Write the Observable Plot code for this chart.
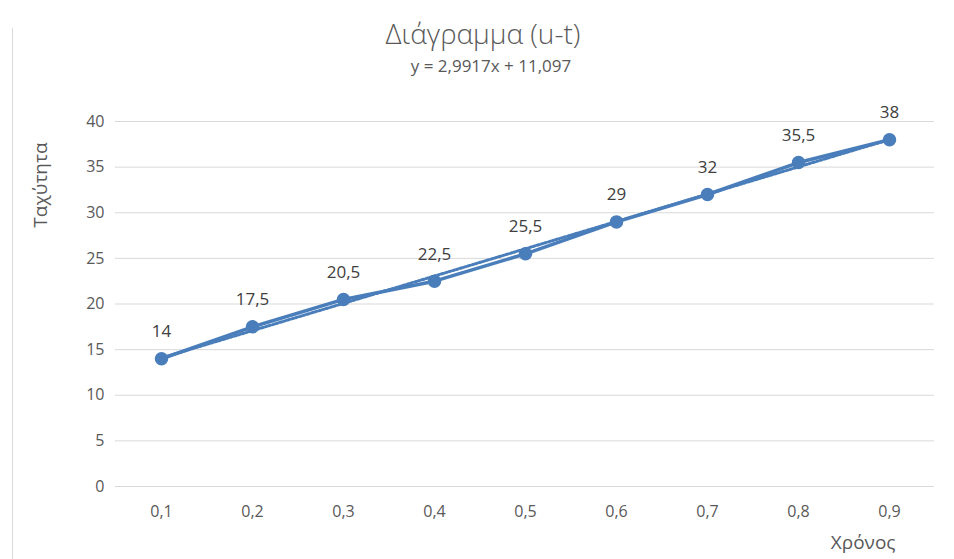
<!DOCTYPE html>
<html>
<head>
<meta charset="utf-8">
<script src="https://cdn.jsdelivr.net/npm/d3@7"></script>
<script src="https://cdn.jsdelivr.net/npm/@observablehq/plot@0.6"></script>
<style>
  html, body { margin: 0; padding: 0; background: #fff; }
  body { width: 954px; height: 559px; position: relative; overflow: hidden;
         font-family: "Open Sans", sans-serif; color: #595959; }
  #frame { position: absolute; left: 12px; top: 28px; bottom: 0; border-left: 1px solid #d9d9d9; }
  #title { position: absolute; left: 0; width: 966px; top: 14px; text-align: center; font-size: 28px; font-weight: 300; }
  #subtitle { position: absolute; left: 0; width: 982px; top: 54px; text-align: center; font-size: 17px; }
  #chart { position: absolute; left: 0; top: 90px; }
</style>
</head>
<body>
<div id="frame"></div>
<div id="title">Διάγραμμα (u-t)</div>
<div id="subtitle">y = 2,9917x + 11,097</div>
<div id="chart"></div>
<script>
const times = [0.1, 0.2, 0.3, 0.4, 0.5, 0.6, 0.7, 0.8, 0.9];
const speeds = [14, 17.5, 20.5, 22.5, 25.5, 29, 32, 35.5, 38];
const yTicks = [0, 5, 10, 15, 20, 25, 30, 35, 40];
const trendSlope = 2.9917;
const trendIntercept = 11.097;

const fmt = v => String(v).replace(".", ",");
const data = times.map((t, i) => ({t, v: speeds[i], i: i + 1}));
const trend = [data[0], data[data.length - 1]].map(d => ({t: d.t, v: trendSlope * d.i + trendIntercept}));

const blue = "#4a7ebb";
const chart = Plot.plot({
  width: 954,
  height: 469,
  marginLeft: 115,
  marginRight: 20,
  marginTop: 31,
  marginBottom: 73,
  style: {fontFamily: "'Open Sans', sans-serif", fontSize: "16px", color: "#595959", background: "transparent"},
  x: {type: "point", domain: times, padding: 0.5, label: null},
  y: {domain: [0, 40], label: null},
  marks: [
    Plot.gridY(yTicks, {stroke: "#d9d9d9", strokeOpacity: 1, strokeWidth: 1}),
    Plot.axisY(yTicks, {tickSize: 0, tickPadding: 11, fontSize: 16, fill: "#595959", label: null}),
    Plot.axisX({tickSize: 0, tickPadding: 19, fontSize: 16, fill: "#595959", tickFormat: fmt, label: null}),
    Plot.line(trend, {x: "t", y: "v", stroke: blue, strokeWidth: 3, strokeDasharray: "2,2"}),
    Plot.line(data, {x: "t", y: "v", stroke: blue, strokeWidth: 3.5}),
    Plot.dot(data, {x: "t", y: "v", r: 6, fill: blue, stroke: blue}),
    Plot.text(data, {x: "t", y: "v", text: d => fmt(d.v), dy: -27, fontSize: 17, fill: "#404040"}),
    Plot.text(["Ταχύτητα"], {frameAnchor: "left", textAnchor: "middle", dx: -75, dy: -119, rotate: -90, fontSize: 19, fill: "#595959"}),
    Plot.text(["Χρόνος"], {frameAnchor: "bottom-right", dx: -39, dy: 62, fontSize: 19, fill: "#595959"})
  ]
});
document.getElementById("chart").appendChild(chart);
</script>
</body>
</html>
